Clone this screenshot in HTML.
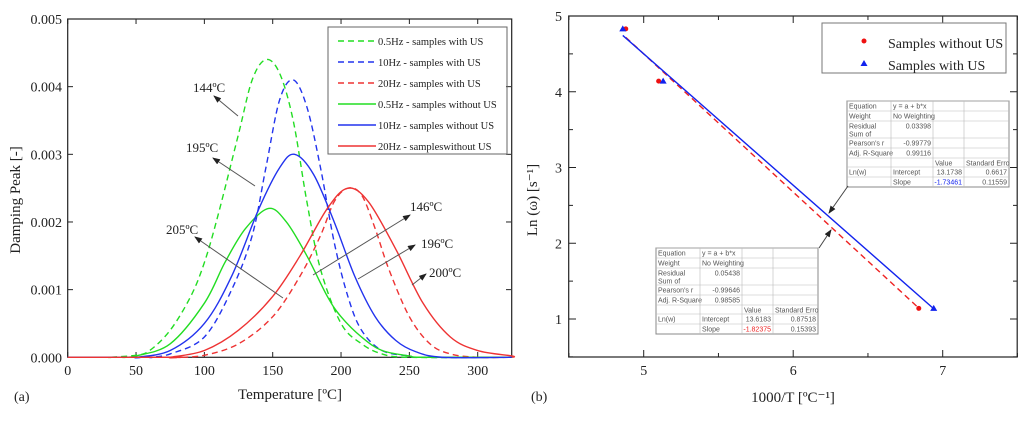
<!DOCTYPE html>
<html><head><meta charset="utf-8"><style>
body{margin:0;background:#fff}
svg text{font-family:"Liberation Serif",serif;fill:#222}
.t{font-family:"Liberation Sans",sans-serif;font-size:7px;fill:#555}
</style></head><body>
<svg width="1024" height="417" viewBox="0 0 1024 417">
<defs><marker id="ah" markerWidth="8" markerHeight="6" refX="7" refY="3" orient="auto"><path d="M0,0L8,3L0,6z" fill="#222"/></marker></defs>
<g id="left"></g>
<g id="right"></g>
</svg>
<script>
// ---- Chart (a) data ----
const xTicksA=[0,50,100,150,200,250,300];
const yTicksA=[0,0.001,0.002,0.003,0.004,0.005];
const gdT=[30,50,60,75,90,100,110,125,135,145,155,165,175,185,200,215,230,250];
const gdV=[0,0.00003,0.0001,0.0004,0.0009,0.0014,0.0021,0.0033,0.0041,0.0044,0.0042,0.0035,0.0023,0.0013,0.0005,0.0002,0.00005,0];
const bdT=[60,75,100,120,135,145,155,165,175,185,195,205,215,230,250,260];
const bdV=[0,0.00005,0.0003,0.001,0.0018,0.0028,0.0038,0.0041,0.0037,0.0028,0.0017,0.0009,0.0004,0.0001,0.00002,0];
const rdT=[80,100,125,150,170,185,195,205,215,225,235,250,265,280,300];
const rdV=[0,0.00003,0.0002,0.0006,0.0012,0.0018,0.0023,0.0025,0.0024,0.0019,0.0013,0.0006,0.0002,0.00005,0];
const gsT=[40,50,75,100,115,130,147,160,175,190,200,215,230,250,260];
const gsV=[0,0.00002,0.0002,0.0008,0.0014,0.0019,0.0022,0.002,0.0015,0.0009,0.0006,0.0003,0.0001,0.00002,0];
const bsT=[50,75,100,120,140,155,166,180,195,210,225,240,255,275];
const bsV=[0,0.0001,0.0005,0.0012,0.0022,0.0028,0.003,0.0027,0.002,0.0012,0.0006,0.00025,0.00008,0];
const rsT=[75,100,125,150,170,190,205,220,240,260,280,300,325];
const rsV=[0,0.0001,0.0004,0.0009,0.0015,0.0022,0.0025,0.0023,0.0016,0.0008,0.0003,0.0001,0.00002];
// ---- Chart (b) data ----
const xTicksB=[5,6,7];
const yTicksB=[1,2,3,4,5];
const woX=[4.88,5.1,6.84], woY=[4.83,4.14,1.14];
const wX=[4.86,5.13,6.94], wY=[4.83,4.14,1.14];
const fitW=[13.1738,-1.73461,4.86,6.94];
const fitWo=[13.6183,-1.82375,4.88,6.84];

const NS="http://www.w3.org/2000/svg";
function mk(p,t,a,txt){const e=document.createElementNS(NS,t);for(const k in a)e.setAttribute(k,a[k]);if(txt!==undefined)e.textContent=txt;p.appendChild(e);return e;}
// chart a
const L=document.getElementById('left');
const ax=v=>67.7+v*(410/300), ay=v=>357.3-v*(338.3/0.005);
let e=mk(L,'rect',{x:67.7,y:19,width:444,height:338.3,fill:'none',stroke:'#222','stroke-width':1.2});

xTicksA.forEach(t=>{mk(L,'line',{x1:ax(t),x2:ax(t),y1:357,y2:352,stroke:'#222'});mk(L,'line',{x1:ax(t),x2:ax(t),y1:19,y2:24,stroke:'#222'});
 e=mk(L,'text',{x:ax(t),y:375,'text-anchor':'middle','font-size':14},t);});
yTicksA.forEach(t=>{mk(L,'line',{x1:68,x2:73,y1:ay(t),y2:ay(t),stroke:'#222'});mk(L,'line',{x1:506,x2:511,y1:ay(t),y2:ay(t),stroke:'#222'});
 e=mk(L,'text',{x:62,y:ay(t)+5,'text-anchor':'end','font-size':14},t.toFixed(3));});
e=mk(L,'text',{x:290,y:399,'text-anchor':'middle','font-size':15},'Temperature [ºC]');
e=mk(L,'text',{x:20,y:200,'text-anchor':'middle','font-size':15,transform:'rotate(-90 20 200)'},'Damping Peak  [-]');
e=mk(L,'text',{x:14,y:401,'font-size':14},'(a)');
const series=[[gdT,gdV,'#22dd22',1],[bdT,bdV,'#2233ee',1],[rdT,rdV,'#ee3333',1],[gsT,gsV,'#22dd22',0],[bsT,bsV,'#2233ee',0],[rsT,rsV,'#ee3333',0]];
const names=['0.5Hz - samples with US','10Hz - samples with US','20Hz - samples with US','0.5Hz - samples without US','10Hz - samples without US','20Hz  - sampleswithout US'];
series.forEach((s,i)=>{let pts=[[ax(0),ay(0)],[ax(s[0][0]),ay(0)]];
 for(let j=0;j<s[0].length;j++)pts.push([ax(s[0][j]),ay(s[1][j])]);
 pts.push([ax(325),ay(0)]);
 let d='M'+pts[0][0]+','+pts[0][1]+' L'+pts[1][0]+','+pts[1][1];
 for(let j=1;j<pts.length-1;j++){const p0=pts[j-1],p1=pts[j],p2=pts[j+1],p3=pts[j+2]||p2;
  d+=` C${p1[0]+(p2[0]-p0[0])/6},${p1[1]+(p2[1]-p0[1])/6} ${p2[0]-(p3[0]-p1[0])/6},${p2[1]-(p3[1]-p1[1])/6} ${p2[0]},${p2[1]}`;}
 const c=mk(L,'path',{d:d,fill:'none',stroke:s[2],'stroke-width':1.4,'stroke-dasharray':s[3]?'6,4':'none'});
 
 const ly=41+i*21;mk(L,'line',{x1:338,x2:376,y1:ly,y2:ly,stroke:s[2],'stroke-width':1.4,'stroke-dasharray':s[3]?'6,4':'none'});
 const lt=mk(L,'text',{x:378,y:ly+4,'font-size':10.5},names[i]);});
e=mk(L,'rect',{x:328,y:27,width:179,height:127,fill:'none',stroke:'#666','stroke-width':1});
const ann=[['144ºC',193,92,238,116,214,96],['195ºC',186,152,255,186,213,158],['205ºC',166,234,283,298,195,237],['146ºC',410,211,313,275,410,215],['196ºC',421,248,358,279,415,245],['200ºC',429,277,412,285,426,274]];
ann.forEach(a=>{e=mk(L,'text',{x:a[1],y:a[2],'font-size':13},a[0]);
 mk(L,'line',{x1:a[3],y1:a[4],x2:a[5],y2:a[6],stroke:'#555','stroke-width':1,'marker-end':'url(#ah)'});});
// chart b
const R=document.getElementById('right');
const bx=v=>643.7+(v-5)*149.5, by=v=>319-(v-1)*75.75;
e=mk(R,'rect',{x:568.7,y:16,width:448.5,height:341,fill:'none',stroke:'#222','stroke-width':1.2});
[4.5,5,5.5,6,6.5,7,7.5].forEach(t=>{mk(R,'line',{x1:bx(t),x2:bx(t),y1:357,y2:t%1?353:350,stroke:'#222'});mk(R,'line',{x1:bx(t),x2:bx(t),y1:16,y2:t%1?20:23,stroke:'#222'});});
[0.5,1,1.5,2,2.5,3,3.5,4,4.5,5].forEach(t=>{mk(R,'line',{x1:569,x2:t%1?573:576,y1:by(t),y2:by(t),stroke:'#222'});mk(R,'line',{x1:1017,x2:t%1?1013:1010,y1:by(t),y2:by(t),stroke:'#222'});});
xTicksB.forEach(t=>{e=mk(R,'text',{x:bx(t),y:375,'text-anchor':'middle','font-size':14},t);});
yTicksB.forEach(t=>{e=mk(R,'text',{x:562,y:by(t)+5,'text-anchor':'end','font-size':14},t);});
e=mk(R,'text',{x:793,y:402,'text-anchor':'middle','font-size':15},'1000/T [ºC⁻¹]');
e=mk(R,'text',{x:537,y:200,'text-anchor':'middle','font-size':15,transform:'rotate(-90 537 200)'},'Ln (ω) [s⁻¹]');
e=mk(R,'text',{x:531,y:401,'font-size':14},'(b)');
e=mk(R,'line',{x1:bx(fitWo[2]),y1:by(fitWo[0]+fitWo[1]*fitWo[2]),x2:bx(fitWo[3]),y2:by(fitWo[0]+fitWo[1]*fitWo[3]),stroke:'#ee2222','stroke-width':1.4,'stroke-dasharray':'6,4'});
e=mk(R,'line',{x1:bx(fitW[2]),y1:by(fitW[0]+fitW[1]*fitW[2]),x2:bx(fitW[3]),y2:by(fitW[0]+fitW[1]*fitW[3]),stroke:'#1122ee','stroke-width':1.4});
woX.forEach((x,i)=>{e=mk(R,'circle',{cx:bx(x),cy:by(woY[i]),r:2.5,fill:'#ee1111'});});
wX.forEach((x,i)=>{const X=bx(x),Y=by(wY[i]);e=mk(R,'path',{d:`M${X},${Y-3.5}L${X+3.5},${Y+2.5}L${X-3.5},${Y+2.5}z`,fill:'#1122ee'});});
e=mk(R,'rect',{x:822,y:23,width:184,height:50,fill:'#fff',stroke:'#777'});
mk(R,'circle',{cx:864,cy:41,r:2.5,fill:'#ee1111'});mk(R,'path',{d:'M864,60L867.5,66L860.5,66z',fill:'#1122ee'});
e=mk(R,'text',{x:888,y:48,'font-size':14},'Samples without US');
e=mk(R,'text',{x:888,y:70,'font-size':14},'Samples with US');
function table(x,y,rows,col){const g=mk(R,'g',{});
 const w=162,h=86;mk(g,'rect',{x:x,y:y,width:w,height:h,fill:'#fff',stroke:'#888'});
 const rh=[10,10,17,10,10,9,10,10];let yy=y;const cx=[x,x+44,x+86,x+117,x+w];
 rows.forEach((r,i)=>{mk(g,'line',{x1:x,x2:x+w,y1:yy,y2:yy,stroke:'#bbb','stroke-width':0.6});
  r.forEach((c,j)=>{if(!c)return;
   if(i==2&&j==0){mk(g,'text',{x:cx[0]+2,y:yy+7.5,class:'t'},'Residual');mk(g,'text',{x:cx[0]+2,y:yy+15.5,class:'t'},'Sum of');return;}
   const num=/^-?\d/.test(c)&&j>0;
   const t=mk(g,'text',{x:num?cx[j+1]-2:cx[j]+2,y:yy+7.5,class:'t','text-anchor':num?'end':'start'},c);
   if(i==7&&j==2)t.style.fill=col;});yy+=rh[i];});
 cx.slice(1,4).forEach(c=>mk(g,'line',{x1:c,x2:c,y1:y,y2:y+h,stroke:'#bbb','stroke-width':0.6}));
 return g;}
table(847,101,[['Equation','y = a + b*x','',''],['Weight','No Weighting','',''],['Residual','0.03398','',''],["Pearson's r",'-0.99779','',''],['Adj. R-Square','0.99116','',''],['','','Value','Standard Erro'],['Ln(w)','Intercept','13.1738','0.6617'],['','Slope','-1.73461','0.11559']],'#1122ee');
table(656,248,[['Equation','y = a + b*x','',''],['Weight','No Weighting','',''],['Residual','0.05438','',''],["Pearson's r",'-0.99646','',''],['Adj. R-Square','0.98585','',''],['','','Value','Standard Erro'],['Ln(w)','Intercept','13.6183','0.87518'],['','Slope','-1.82375','0.15393']],'#ee2222');
mk(R,'line',{x1:848,y1:186,x2:829,y2:213,stroke:'#444','marker-end':'url(#ah)'});
mk(R,'line',{x1:819,y1:248,x2:831,y2:230,stroke:'#444','marker-end':'url(#ah)'});
</script>
</body></html>
